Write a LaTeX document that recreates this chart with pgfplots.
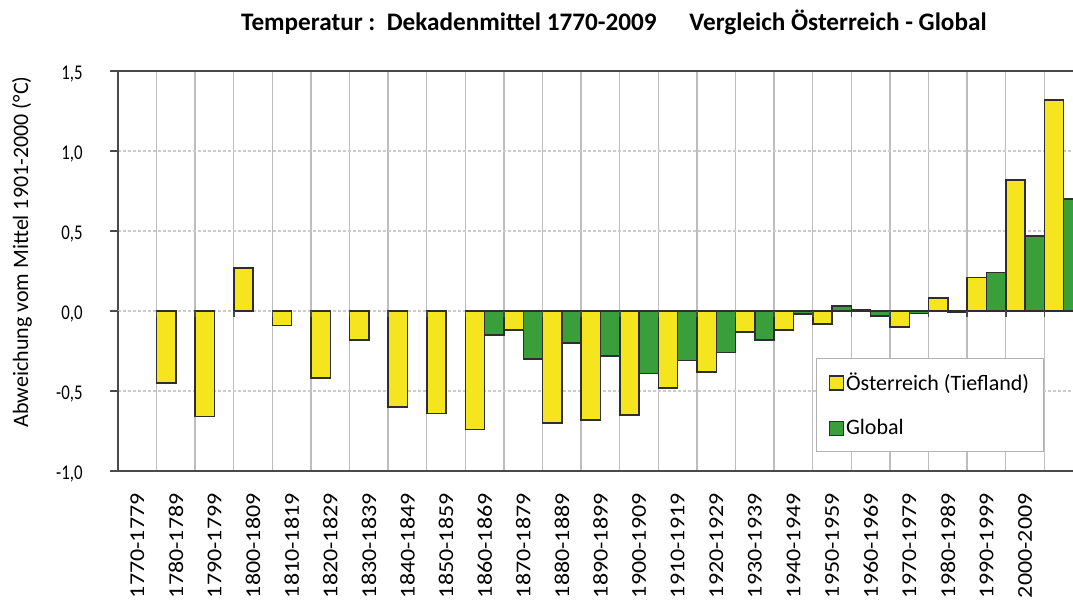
\documentclass[border=0pt]{standalone}
\usepackage{pgfplots}
\pgfplotsset{compat=1.18}
\usepackage{fontspec}
\usepackage{graphicx}
\setmainfont{Carlito}
\definecolor{ybarc}{HTML}{F5E51F}
\definecolor{gbarc}{HTML}{3A9E3A}
\definecolor{edge}{HTML}{2E2E2E}
\definecolor{axc}{HTML}{4A4A4A}
\definecolor{vgrid}{HTML}{BEBEBE}
\definecolor{hgrid}{HTML}{CCCCCC}
\newcommand{\xl}[1]{\scalebox{1}[0.88]{#1}}
\newcommand{\yl}[1]{\scalebox{0.8}[1]{#1}}
\begin{document}
\begin{tikzpicture}
\begin{axis}[
  scale only axis,
  width=482.5pt, height=200pt,
  xmin=0, xmax=25,
  ymin=-1, ymax=1.5,
  axis line style={axc, line width=1pt},
  tick pos=left,
  tick align=outside,
  major tick length=4pt,
  minor tick length=0pt,
  ytick={-1,-0.5,0,0.5,1,1.5},
  yticklabels={{\yl{-1,0}},{\yl{-0,5}},{\yl{0,0}},{\yl{0,5}},{\yl{1,0}},{\yl{1,5}}},
  ytick style={axc, line width=0.8pt},
  yticklabel style={font=\fontsize{10.5}{12}\selectfont, anchor=east, inner sep=0pt, xshift=-13.5pt, yshift=-1.5pt},
  ymajorgrids,
  y grid style={hgrid, dash pattern=on 1.5pt off 1pt, line width=0.6pt},
  extra y ticks={0},
  extra y tick labels={},
  extra y tick style={grid style={solid, axc, line width=0.9pt}},
  xtick={0.5,1.5,...,23.5},
  xticklabels={\xl{1770-1779},\xl{1780-1789},\xl{1790-1799},\xl{1800-1809},\xl{1810-1819},\xl{1820-1829},\xl{1830-1839},\xl{1840-1849},\xl{1850-1859},\xl{1860-1869},\xl{1870-1879},\xl{1880-1889},\xl{1890-1899},\xl{1900-1909},\xl{1910-1919},\xl{1920-1929},\xl{1930-1939},\xl{1940-1949},\xl{1950-1959},\xl{1960-1969},\xl{1970-1979},\xl{1980-1989},\xl{1990-1999},\xl{2000-2009}},
  x tick style={draw=none},
  xticklabel style={rotate=90, anchor=east, inner sep=0pt, font=\fontsize{12}{14}\selectfont},
  xticklabel shift=7pt,
  minor xtick={0,1,...,25},
  xminorgrids,
  minor x grid style={vgrid, line width=0.7pt},
  ylabel={Abweichung vom Mittel 1901-2000 (°C)},
  ylabel style={font=\fontsize{11}{13}\selectfont, at={(axis description cs:-0.0995,0.5475)}, anchor=center},
  title={Temperatur :\ \ Dekadenmittel 1770-2009\hspace{1.3em}Vergleich Österreich - Global},
  title style={font=\bfseries\fontsize{12.6}{15}\selectfont, at={(axis description cs:0.514,1)}, anchor=center, yshift=18.5pt},
  legend style={at={(rel axis cs:0.7233,0.0475)}, anchor=south west, draw=gray!60, line width=0.6pt, fill=white,
    font=\fontsize{11}{13}\selectfont, inner xsep=6pt, inner ysep=6pt, row sep=11pt,
    nodes={inner sep=1pt}},
  legend cell align=left,
]
\addplot[ybar, bar width=0.5, bar shift=0pt, fill=ybarc, draw=edge, line width=0.75pt,
  legend image code/.code={\draw[fill=ybarc, draw=edge, line width=0.75pt] (0pt,-3.5pt) rectangle (7pt,3.5pt);}]
coordinates {
(1.25,-0.45) (2.25,-0.66) (3.25,0.27) (4.25,-0.09) (5.25,-0.42) (6.25,-0.18)
(7.25,-0.60) (8.25,-0.64) (9.25,-0.74) (10.25,-0.12) (11.25,-0.70) (12.25,-0.68)
(13.25,-0.65) (14.25,-0.48) (15.25,-0.38) (16.25,-0.13) (17.25,-0.12) (18.25,-0.08)
(19.25,0.01) (20.25,-0.10) (21.25,0.08) (22.25,0.21) (23.25,0.82) (24.25,1.32)
};
\addlegendentry{Österreich (Tiefland)}
\addplot[ybar, bar width=0.5, bar shift=0pt, fill=gbarc, draw=edge, line width=0.75pt,
  legend image code/.code={\draw[fill=gbarc, draw=edge, line width=0.75pt] (0pt,-3.5pt) rectangle (7pt,3.5pt);}]
coordinates {
(9.75,-0.15) (10.75,-0.30) (11.75,-0.20) (12.75,-0.28) (13.75,-0.39) (14.75,-0.31)
(15.75,-0.26) (16.75,-0.18) (17.75,-0.02) (18.75,0.03) (19.75,-0.03) (20.75,-0.015)
(21.75,-0.005) (22.75,0.24) (23.75,0.47) (24.75,0.70)
};
\addlegendentry{Global}
\pgfplotsinvokeforeach{0,...,25}{\draw[axc, line width=0.8pt] (axis cs:#1,0) -- ([yshift=-3pt]axis cs:#1,0);}
\end{axis}
\pgfresetboundingbox
\useasboundingbox (-59pt,-66pt) rectangle (477.5pt,235.5pt);
\end{tikzpicture}
\end{document}
